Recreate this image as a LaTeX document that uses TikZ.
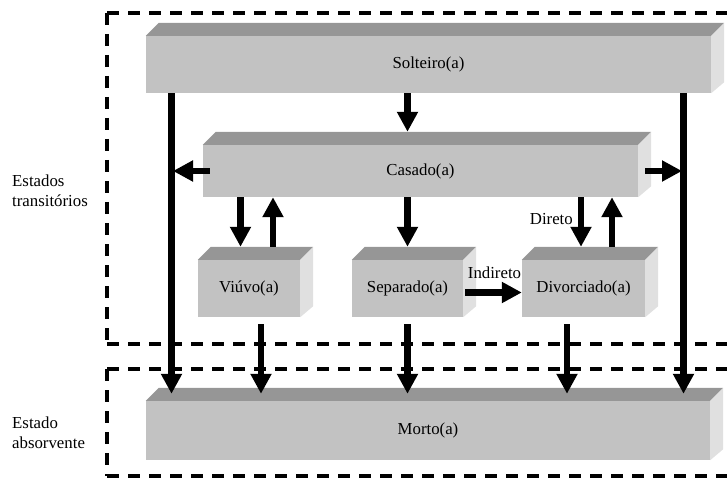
\documentclass[tikz,border=0pt]{standalone}
\usepackage{fontspec}
\setmainfont{Liberation Serif}
\usetikzlibrary{arrows.meta,calc}
\definecolor{frontc}{RGB}{194,194,194}
\definecolor{topc}{RGB}{150,150,150}
\definecolor{sidec}{RGB}{224,224,224}
\newcommand\drawfaces[1]{%
  \fill[topc] (#1.north west) -- ++(13pt,13pt) -- ([shift={(13pt,13pt)}]#1.north east) -- (#1.north east) -- cycle;
  \fill[sidec] (#1.north east) -- ++(13pt,13pt) -- ([shift={(13pt,11pt)}]#1.south east) -- (#1.south east) -- cycle;}
\begin{document}
\begin{tikzpicture}[x=1pt,y=-1pt,
  font=\fontsize{16.8}{20}\selectfont,
  boxf/.style={fill=frontc, inner sep=0pt},
  lbl/.style={inner sep=0pt},
  arr/.style={line width=6.5pt, -{Triangle[length=20pt,width=20pt]}},
  dashbox/.style={line width=3.5pt, dash pattern=on 12pt off 9pt}]
\useasboundingbox (0,0) rectangle (727,478);
\clip (0,0) rectangle (727,478);
% dashed regions
\draw[dashbox] (107,13) -- (745,13);
\draw[dashbox] (107,13) -- (107,344);
\draw[dashbox] (107,344) -- (745,344);
\draw[dashbox] (107,369) -- (745,369);
\draw[dashbox] (107,369) -- (107,476);
\draw[dashbox] (107,476) -- (745,476);
% boxes
\node[boxf, minimum width=565pt, minimum height=57pt] (s) at (428.5,64.5) {Solteiro(a)};
\drawfaces{s}
\node[boxf, minimum width=435pt, minimum height=52pt] (c) at (420.5,171) {Casado(a)};
\drawfaces{c}
\node[boxf, minimum width=102pt, minimum height=57pt] (v) at (249,288.5) {Viúvo(a)};
\drawfaces{v}
\node[boxf, minimum width=111pt, minimum height=57pt] (sep) at (407.5,288.5) {Separado(a)};
\drawfaces{sep}
\node[boxf, minimum width=123pt, minimum height=57pt] (d) at (583.5,288.5) {Divorciado(a)};
\drawfaces{d}
\node[boxf, minimum width=564pt, minimum height=59pt] (m) at (428,430.5) {Morto(a)};
\drawfaces{m}
% labels
\node[lbl, anchor=west, align=left] (lt) at (12,190.5) {Estados\\transitórios};
\node[lbl, anchor=west, align=left] (la) at (12,433) {Estado\\absorvente};
\coordinate (L) at (171.5,0);
\coordinate (R) at (683.5,0);
% arrows
\draw[arr] (s.south -| L) -- ($(m.north -| L)+(0,-7)$);
\draw[arr] (s.south -| R) -- ($(m.north -| R)+(0,-7)$);
\draw[arr] (s.south -| sep) -- ($(c.north -| sep)+(0,-13)$);
\draw[arr] ($(c.west)+(7,0)$) -- ($(c.west -| L)+(1.5,0)$);
\draw[arr] ($(c.east)+(7,0)$) -- ($(c.east -| R)+(-1.5,0)$);
\draw[arr] ($(c.south -| v)+(-8.5,0)$) -- ($(v.north)+(-8.5,-13)$);
\draw[arr] ($(v.north)+(24,-13)$) -- ($(c.south -| v)+(24,0)$);
\draw[arr] (c.south -| sep) -- ($(sep.north)+(0,-13)$);
\draw[arr] ($(c.south -| d)+(-2.5,0)$) -- ($(d.north)+(-2.5,-13)$);
\draw[arr] ($(d.north)+(28.5,-13)$) -- ($(c.south -| d)+(28.5,0)$);
\draw[arr] ($(sep.east)+(2,4)$) -- ($(d.west)+(0,4)$);
\node[lbl, anchor=east] (dl) at (573,219) {Direto};
\node[lbl] (il) at (494.5,273) {Indireto};
\draw[arr] ($(v.south)+(12,7)$) -- ($(m.north -| v)+(12,-7)$);
\draw[arr] ($(sep.south)+(0,7)$) -- ($(m.north -| sep)+(0,-7)$);
\draw[arr] ($(d.south)+(-16.5,7)$) -- ($(m.north -| d)+(-16.5,-7)$);
\end{tikzpicture}
\end{document}
